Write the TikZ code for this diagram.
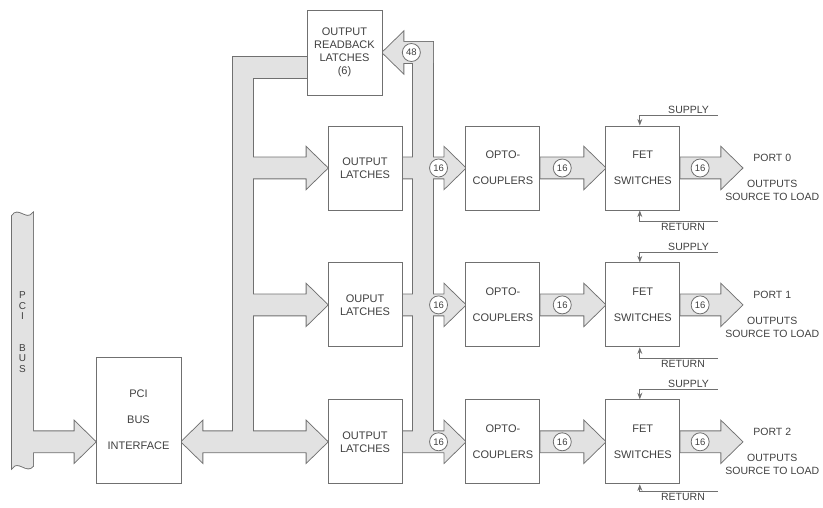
\documentclass[tikz,border=0pt]{standalone}
\usepackage{fontspec}
\setmainfont{Liberation Sans}
\usetikzlibrary{arrows.meta, positioning, calc}
\definecolor{edgegray}{RGB}{112,112,112}
\definecolor{busgray}{RGB}{226,226,226}
\definecolor{txtgray}{RGB}{64,64,64}
\pgfdeclarelayer{busline}
\pgfdeclarelayer{busfill}
\pgfsetlayers{busline,busfill,main}

% fat bus arrows: shaft half width, head half width, head length
\newcommand\shaftw{10.5}
\newcommand\headw{20.5}
\newcommand\headl{21}
% outline on one layer, fill on the next, so joined pieces merge
\newcommand\fatshape[1]{%
  \begin{pgfonlayer}{busline}\path[busedge] #1;\end{pgfonlayer}%
  \begin{pgfonlayer}{busfill}\path[busbody] #1;\end{pgfonlayer}}

\begin{document}
\begin{tikzpicture}[
  x=1pt, y=-1pt,
  >=Stealth,
  node distance=0pt,
  box/.style={
    rectangle, draw=edgegray, fill=white, line width=0.9pt,
    minimum width=74pt, minimum height=84pt, inner sep=0pt,
    align=center, text=txtgray, font=\fontsize{11}{13}\selectfont,
  },
  num/.style={
    circle, draw=edgegray, fill=white, line width=0.8pt,
    minimum size=18pt, inner sep=0pt,
    text=txtgray, font=\fontsize{9.5}{10}\selectfont,
  },
  busedge/.style={draw=edgegray, line width=1.8pt},
  busbody/.style={fill=busgray},
  fat/.style={to path={
    ($(\tikztostart)+(0,-\shaftw)$) -- ($(\tikztotarget)+({(#1)*(-\headl)},-\shaftw)$)
    -- ($(\tikztotarget)+({(#1)*(-\headl)},-\headw)$) -- (\tikztotarget)
    -- ($(\tikztotarget)+({(#1)*(-\headl)},\headw)$) -- ($(\tikztotarget)+({(#1)*(-\headl)},\shaftw)$)
    -- ($(\tikztostart)+(0,\shaftw)$) -- cycle}},
  fat/.default=1,
  fatboth/.style={to path={
    (\tikztostart) -- ($(\tikztostart)+(\headl,-\headw)$) -- ($(\tikztostart)+(\headl,-\shaftw)$)
    -- ($(\tikztotarget)+(-\headl,-\shaftw)$) -- ($(\tikztotarget)+(-\headl,-\headw)$) -- (\tikztotarget)
    -- ($(\tikztotarget)+(-\headl,\headw)$) -- ($(\tikztotarget)+(-\headl,\shaftw)$)
    -- ($(\tikztostart)+(\headl,\shaftw)$) -- ($(\tikztostart)+(\headl,\headw)$) -- cycle}},
  pwr/.style={->, draw=edgegray, line width=0.8pt},
  pwrlbl/.style={inner sep=1.5pt, text=txtgray, font=\fontsize{10.5}{12}\selectfont},
  portlbl/.style={align=center, inner sep=0pt, text=txtgray, font=\fontsize{10.5}{13}\selectfont},
]
\useasboundingbox (0,0) rectangle (823,508);

% ── Interface + readback
\node[box, minimum width=85pt, minimum height=126pt] (iface) at (138.5,420)
  {PCI\\[13pt]BUS\\[13pt]INTERFACE};
\node[box, minimum width=75pt, minimum height=85pt] (rdbk) at (344.5,52.5)
  {OUTPUT\\READBACK\\LATCHES\\(6)};

% ── Latches column
\node[box] (lat0) at (365,168) {OUTPUT\\LATCHES};
\node[box, below=52pt of lat0] (lat1) {OUPUT\\LATCHES};
\node[box, below=52pt of lat1] (lat2) {OUTPUT\\LATCHES};

% ── Opto + FET columns
\node[box, right=63pt of lat0] (opt0) {OPTO-\\[13pt]COUPLERS};
\node[box, right=63pt of lat1] (opt1) {OPTO-\\[13pt]COUPLERS};
\node[box, right=63pt of lat2] (opt2) {OPTO-\\[13pt]COUPLERS};
\node[box, right=65pt of opt0] (fet0) {FET\\[13pt]SWITCHES};
\node[box, right=65pt of opt1] (fet1) {FET\\[13pt]SWITCHES};
\node[box, right=65pt of opt2] (fet2) {FET\\[13pt]SWITCHES};

% ── PCI bus bar
\node[font=\fontsize{10}{10.5}\selectfont, text=txtgray, align=center, inner sep=0pt]
  (pcilbl) at (22.5,332) {P\\C\\I\\[21pt]B\\U\\S};
\coordinate (pcibus) at (22.5,0);
\coordinate (ifin) at (iface.west |- lat2.west);
\coordinate (ifout) at (iface.east |- lat2.west);
\fatshape{(12,216) .. controls (18,206) and (26,222) .. (33,213) -- (33,466)
  .. controls (27,474) and (18,459) .. (12,468) -- cycle}
\fatshape{(pcibus |- ifin) to[fat] (ifin)}

% ── Left bus
\coordinate (lbus) at (243,0);
\coordinate (rdin) at ($(rdbk.west)+(0,15)$);
\fatshape{($(lbus |- rdin)+(-10,-\shaftw)$) rectangle ($(rdin)+(0,\shaftw)$)}
\fatshape{($(lbus |- rdin)+(-10,-\shaftw)$) rectangle ($(lbus |- lat2.west)+(10,0)$)}
\fatshape{(lbus |- lat0.west) to[fat] (lat0.west)}
\fatshape{(lbus |- lat1.west) to[fat] (lat1.west)}
\fatshape{(ifout) to[fatboth] (lat2.west)}

% ── Right bus (readback)
\coordinate (rbus) at (423,0);
\coordinate (rdout) at ($(rbus |- rdbk.east)+(10,0)$);
\fatshape{(rdout) to[fat=-1] (rdbk.east)}
\fatshape{($(rdout)+(-20,-\shaftw)$) rectangle ($(rbus |- lat2.east)+(10,0)$)}
\node[num, right=19.5pt of rdbk] (n48) {48};

% ── ROW 0
\coordinate (out0) at ($(fet0.east)+(62,0)$);
\fatshape{(lat0.east) to[fat] (opt0.west)}
\fatshape{(opt0.east) to[fat] (fet0.west)}
\fatshape{(fet0.east) to[fat] (out0)}
\node[num, left=17.5pt of opt0] (n0a) {16};
\node[num, right=12.5pt of opt0] (n0b) {16};
\node[num, right=10.5pt of fet0] (n0c) {16};
\node[portlbl] (port0) at ($(out0)+(30,9.5)$) {PORT 0\\[13pt]OUTPUTS\\SOURCE TO LOAD};
\coordinate (sup0) at ($(fet0.north)+(75,-10)$);
\coordinate (ret0) at ($(fet0.south)+(75,11)$);
\draw[pwr] (sup0) node[pwrlbl, anchor=south east, xshift=-7pt] {SUPPLY} -| ([xshift=-3pt]fet0.north);
\draw[pwr] (ret0) node[pwrlbl, anchor=north east, xshift=-11pt] {RETURN} -| ([xshift=-3pt]fet0.south);

% ── ROW 1
\coordinate (out1) at ($(fet1.east)+(62,0)$);
\fatshape{(lat1.east) to[fat] (opt1.west)}
\fatshape{(opt1.east) to[fat] (fet1.west)}
\fatshape{(fet1.east) to[fat] (out1)}
\node[num, left=17.5pt of opt1] (n1a) {16};
\node[num, right=12.5pt of opt1] (n1b) {16};
\node[num, right=10.5pt of fet1] (n1c) {16};
\node[portlbl] (port1) at ($(out1)+(30,9.5)$) {PORT 1\\[13pt]OUTPUTS\\SOURCE TO LOAD};
\coordinate (sup1) at ($(fet1.north)+(75,-10)$);
\coordinate (ret1) at ($(fet1.south)+(75,11)$);
\draw[pwr] (sup1) node[pwrlbl, anchor=south east, xshift=-7pt] {SUPPLY} -| ([xshift=-3pt]fet1.north);
\draw[pwr] (ret1) node[pwrlbl, anchor=north east, xshift=-11pt] {RETURN} -| ([xshift=-3pt]fet1.south);

% ── ROW 2
\coordinate (out2) at ($(fet2.east)+(62,0)$);
\fatshape{(lat2.east) to[fat] (opt2.west)}
\fatshape{(opt2.east) to[fat] (fet2.west)}
\fatshape{(fet2.east) to[fat] (out2)}
\node[num, left=17.5pt of opt2] (n2a) {16};
\node[num, right=12.5pt of opt2] (n2b) {16};
\node[num, right=10.5pt of fet2] (n2c) {16};
\node[portlbl] (port2) at ($(out2)+(30,9.5)$) {PORT 2\\[13pt]OUTPUTS\\SOURCE TO LOAD};
\coordinate (sup2) at ($(fet2.north)+(75,-10)$);
\coordinate (ret2) at ($(fet2.south)+(75,7)$);
\draw[pwr] (sup2) node[pwrlbl, anchor=south east, xshift=-7pt] {SUPPLY} -| ([xshift=-3pt]fet2.north);
\draw[pwr] (ret2) node[pwrlbl, anchor=north east, xshift=-11pt] {RETURN} -| ([xshift=-3pt]fet2.south);

\end{tikzpicture}
\end{document}
